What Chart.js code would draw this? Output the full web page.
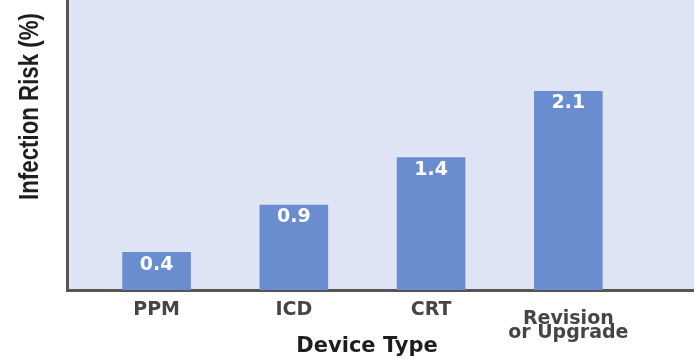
<!DOCTYPE html>
<html>
<head>
<meta charset="utf-8">
<script src="https://cdn.jsdelivr.net/npm/chart.js@4/dist/chart.umd.min.js"></script>
<style>
  html, body { margin: 0; padding: 0; background: #ffffff; overflow: hidden; }
  #wrap { width: 694px; height: 359px; position: relative; }
</style>
</head>
<body>
<div id="wrap"><canvas id="chart"></canvas></div>
<script>
// Device categories (multi-line entries are drawn as stacked tick lines)
const DEVICE_TYPES = ['PPM', 'ICD', 'CRT', ['Revision', 'or Upgrade']];
// Infection risk per device type, in percent
const INFECTION_RISK = [0.4, 0.9, 1.4, 2.1];
const Y_TITLE = 'Infection Risk (%)';
const X_TITLE = 'Device Type';

const PLOT_BG = '#dfe4f5';
const BAR_COLOR = '#6a8dd0';
const AXIS_COLOR = '#555555';
const LABEL_FONT = "'DejaVu Sans', sans-serif";

// Light panel behind the plotting area
const plotBackground = {
  id: 'plotBackground',
  beforeDraw(chart) {
    const { ctx, chartArea: a } = chart;
    ctx.save();
    ctx.fillStyle = '#ffffff';
    ctx.fillRect(0, 0, chart.width, chart.height);
    ctx.fillStyle = PLOT_BG;
    ctx.fillRect(a.left, 0, a.right - a.left, a.bottom);
    ctx.restore();
  }
};

// White value labels just inside the top of each bar
const barValues = {
  id: 'barValues',
  afterDatasetsDraw(chart) {
    const { ctx } = chart;
    const meta = chart.getDatasetMeta(0);
    ctx.save();
    ctx.fillStyle = '#ffffff';
    ctx.font = `bold 19px ${LABEL_FONT}`;
    ctx.textAlign = 'center';
    ctx.textBaseline = 'middle';
    meta.data.forEach((bar, i) => {
      ctx.fillText(INFECTION_RISK[i].toFixed(1), bar.x, bar.y + 12.5);
    });
    ctx.restore();
  }
};

// Axis titles; the vertical one uses a condensed bold face
const axisTitles = {
  id: 'axisTitles',
  afterDraw(chart) {
    const { ctx } = chart;
    ctx.save();
    ctx.fillStyle = '#1e1e1e';
    ctx.textAlign = 'center';
    ctx.textBaseline = 'alphabetic';
    ctx.font = `bold 21px ${LABEL_FONT}`;
    ctx.fillText(X_TITLE, 367, 352);

    ctx.translate(38, 106.5);
    ctx.rotate(-Math.PI / 2);
    ctx.font = "bold 27px 'Liberation Sans', Arial, sans-serif";
    const natural = ctx.measureText(Y_TITLE).width;
    ctx.scale(187 / natural, 1);
    ctx.fillText(Y_TITLE, 0, 0);
    ctx.restore();
  }
};

new Chart(document.getElementById('chart'), {
  type: 'bar',
  data: {
    datasets: [{
      data: INFECTION_RISK.map((v, i) => ({ x: i, y: v })),
      backgroundColor: BAR_COLOR,
      borderWidth: 0,
      barPercentage: 0.5,
      categoryPercentage: 1
    }]
  },
  options: {
    responsive: true,
    maintainAspectRatio: false,
    animation: false,
    devicePixelRatio: 1,
    layout: { padding: { left: 67, right: 0, top: 0, bottom: 11 } },
    plugins: { legend: { display: false }, tooltip: { enabled: false } },
    scales: {
      x: {
        type: 'linear',
        offset: false,
        min: -0.653,
        max: 3.916,
        afterBuildTicks(scale) {
          scale.ticks = DEVICE_TYPES.map((_, i) => ({ value: i }));
        },
        grid: { display: false, drawTicks: false, offset: false },
        border: { display: true, color: AXIS_COLOR, width: 3 },
        ticks: {
          autoSkip: false,
          maxRotation: 0,
          minRotation: 0,
          padding: 8,
          color: '#454545',
          callback(value) {
            const label = DEVICE_TYPES[value];
            return Array.isArray(label) ? ['', ...label] : label;
          },
          font(ctx) {
            const multi = Array.isArray(DEVICE_TYPES[ctx.index]);
            return { family: LABEL_FONT, size: 19, weight: 'bold', lineHeight: multi ? '14px' : '24px' };
          }
        }
      },
      y: {
        min: 0,
        max: 3.06,
        grid: { display: false, drawTicks: false },
        border: { display: true, color: AXIS_COLOR, width: 3 },
        ticks: { display: false }
      }
    }
  },
  plugins: [plotBackground, barValues, axisTitles]
});
</script>
</body>
</html>
